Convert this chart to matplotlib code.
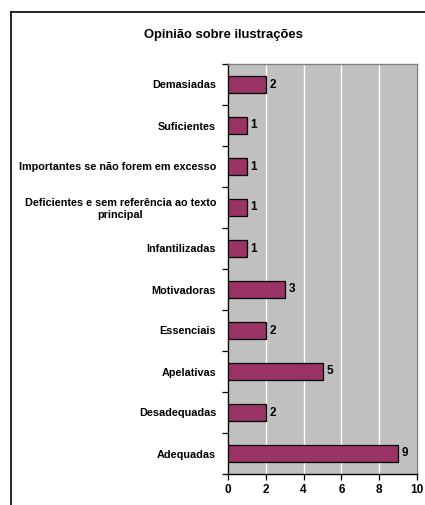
import matplotlib
matplotlib.use("Agg")
import matplotlib.pyplot as plt
from matplotlib.lines import Line2D
import numpy as np

plt.rcParams['font.family'] = ['Liberation Sans', 'DejaVu Sans']

# data, top to bottom as in the chart
categories = [
    "Demasiadas",
    "Suficientes",
    "Importantes se não forem em excesso",
    "Deficientes e sem referência ao texto\nprincipal",
    "Infantilizadas",
    "Motivadoras",
    "Essenciais",
    "Apelativas",
    "Desadequadas",
    "Adequadas",
]
values = [2, 1, 1, 1, 1, 3, 2, 5, 2, 9]
x_ticks = [0, 2, 4, 6, 8, 10]

W, H = 425, 505
fig = plt.figure(figsize=(W / 100, H / 100), dpi=100)
fig.patch.set_facecolor("white")

# outer chart frame (left and top edges visible)
fig.add_artist(Line2D([11 / W, 11 / W], [0, 1 - 12 / H], color="black", lw=1.2,
                      transform=fig.transFigure))
fig.add_artist(Line2D([11 / W, 1], [1 - 12 / H, 1 - 12 / H], color="black", lw=1.2,
                      transform=fig.transFigure))

ax = fig.add_axes([228 / W, 1 - 474 / H, (417 - 228) / W, (474 - 64) / H])
ax.set_facecolor("#C0C0C0")

n = len(categories)
y = np.arange(n)[::-1]
ax.barh(y, values, height=0.42, color="#993366", edgecolor="black", linewidth=0.9, zorder=3)

for yi, v in zip(y, values):
    ax.text(v + 0.2, yi, str(v), va="center", ha="left", fontsize=8.5,
            fontweight="bold", zorder=4)

ax.set_xlim(0, 10)
ax.set_ylim(-0.5, n - 0.5)
ax.set_xticks(x_ticks)
ax.set_xticklabels([str(t) for t in x_ticks], fontsize=8.5, fontweight="bold")
ax.xaxis.grid(True, color="white", lw=1.0, zorder=0)
ax.set_axisbelow(True)

ax.set_yticks(y)
ax.set_yticklabels(categories, fontsize=7.8, fontweight="bold",
                   multialignment="center")
ax.tick_params(axis="y", length=0, pad=8.5)
# minor ticks at category boundaries
ax.set_yticks(np.arange(-0.5, n, 1.0), minor=True)
ax.tick_params(axis="y", which="minor", length=4, direction="out", width=0.9)
ax.tick_params(axis="x", length=4, direction="out", width=0.9, pad=3)

for s in ["top", "right"]:
    ax.spines[s].set_color("#808080")
    ax.spines[s].set_linewidth(1.0)
for s in ["left", "bottom"]:
    ax.spines[s].set_color("black")
    ax.spines[s].set_linewidth(1.0)

fig.text(223 / W, 1 - 35 / H, "Opinião sobre ilustrações", ha="center", va="center",
         fontsize=9.4, fontweight="bold")

fig.savefig("out.png", dpi=100)
